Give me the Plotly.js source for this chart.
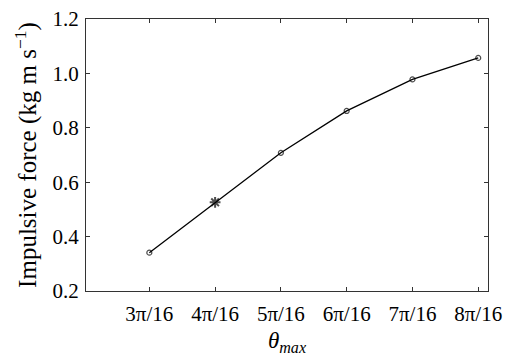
<!DOCTYPE html>
<html>
<head>
<meta charset="utf-8">
<script src="https://cdn.plot.ly/plotly-3.0.1.min.js"></script>
<style>html,body{margin:0;padding:0;background:#fff;}#chart{width:505px;height:356px;}</style>
</head>
<body>
<div id="chart"></div>
<script>
var multiples = [3, 4, 5, 6, 7, 8];
var tickLabels = ['3π/16', '4π/16', '5π/16', '6π/16', '7π/16', '8π/16'];
var force = [0.341, 0.526, 0.708, 0.862, 0.978, 1.057];
var markerSymbols = ['circle-open', 'asterisk-open', 'circle-open', 'circle-open', 'circle-open', 'circle-open'];
var markerSizes = [5, 9, 5, 5, 5, 5];
var markerWidths = [1.2, 2, 1.2, 1.2, 1.2, 1.2];

var xs = multiples.map(function (m) { return m * Math.PI / 16; });
var FONT = 'Liberation Serif';

var trace = {
  x: xs,
  y: force,
  mode: 'lines+markers',
  line: {color: '#000', width: 1.3},
  marker: {symbol: markerSymbols, size: markerSizes, color: '#000', line: {color: '#000', width: markerWidths}},
  showlegend: false,
  hoverinfo: 'skip'
};

var axisCommon = {
  showline: true, linecolor: '#333', linewidth: 1, mirror: 'ticks',
  ticks: 'inside', ticklen: 4, tickcolor: '#333', tickwidth: 1,
  showgrid: false, zeroline: false,
  tickfont: {family: FONT, size: 21, color: '#000'}
};

var layout = {
  width: 505, height: 356,
  font: {family: FONT},
  margin: {l: 86, r: 17, t: 19, b: 65},
  paper_bgcolor: '#fff', plot_bgcolor: '#fff',
  xaxis: Object.assign({}, axisCommon, {
    range: [0.4, 1.6],
    tickmode: 'array', tickvals: xs, ticktext: tickLabels,
    ticklabelstandoff: 4,
    title: {text: '<i>θ<sub>max</sub></i>', font: {family: FONT, size: 23, color: '#000'}, standoff: 8}
  }),
  yaxis: Object.assign({}, axisCommon, {
    range: [0.2, 1.2],
    tickmode: 'array', tickvals: [0.2, 0.4, 0.6, 0.8, 1.0, 1.2],
    ticktext: ['0.2', '0.4', '0.6', '0.8', '1.0', '1.2'],
    ticklabelstandoff: 2,
    title: {text: 'Impulsive force (kg m s<sup>−1</sup>)', font: {family: FONT, size: 25, color: '#000'}, standoff: 8}
  })
};

Plotly.newPlot('chart', [trace], layout, {displayModeBar: false, staticPlot: true});
</script>
</body>
</html>
